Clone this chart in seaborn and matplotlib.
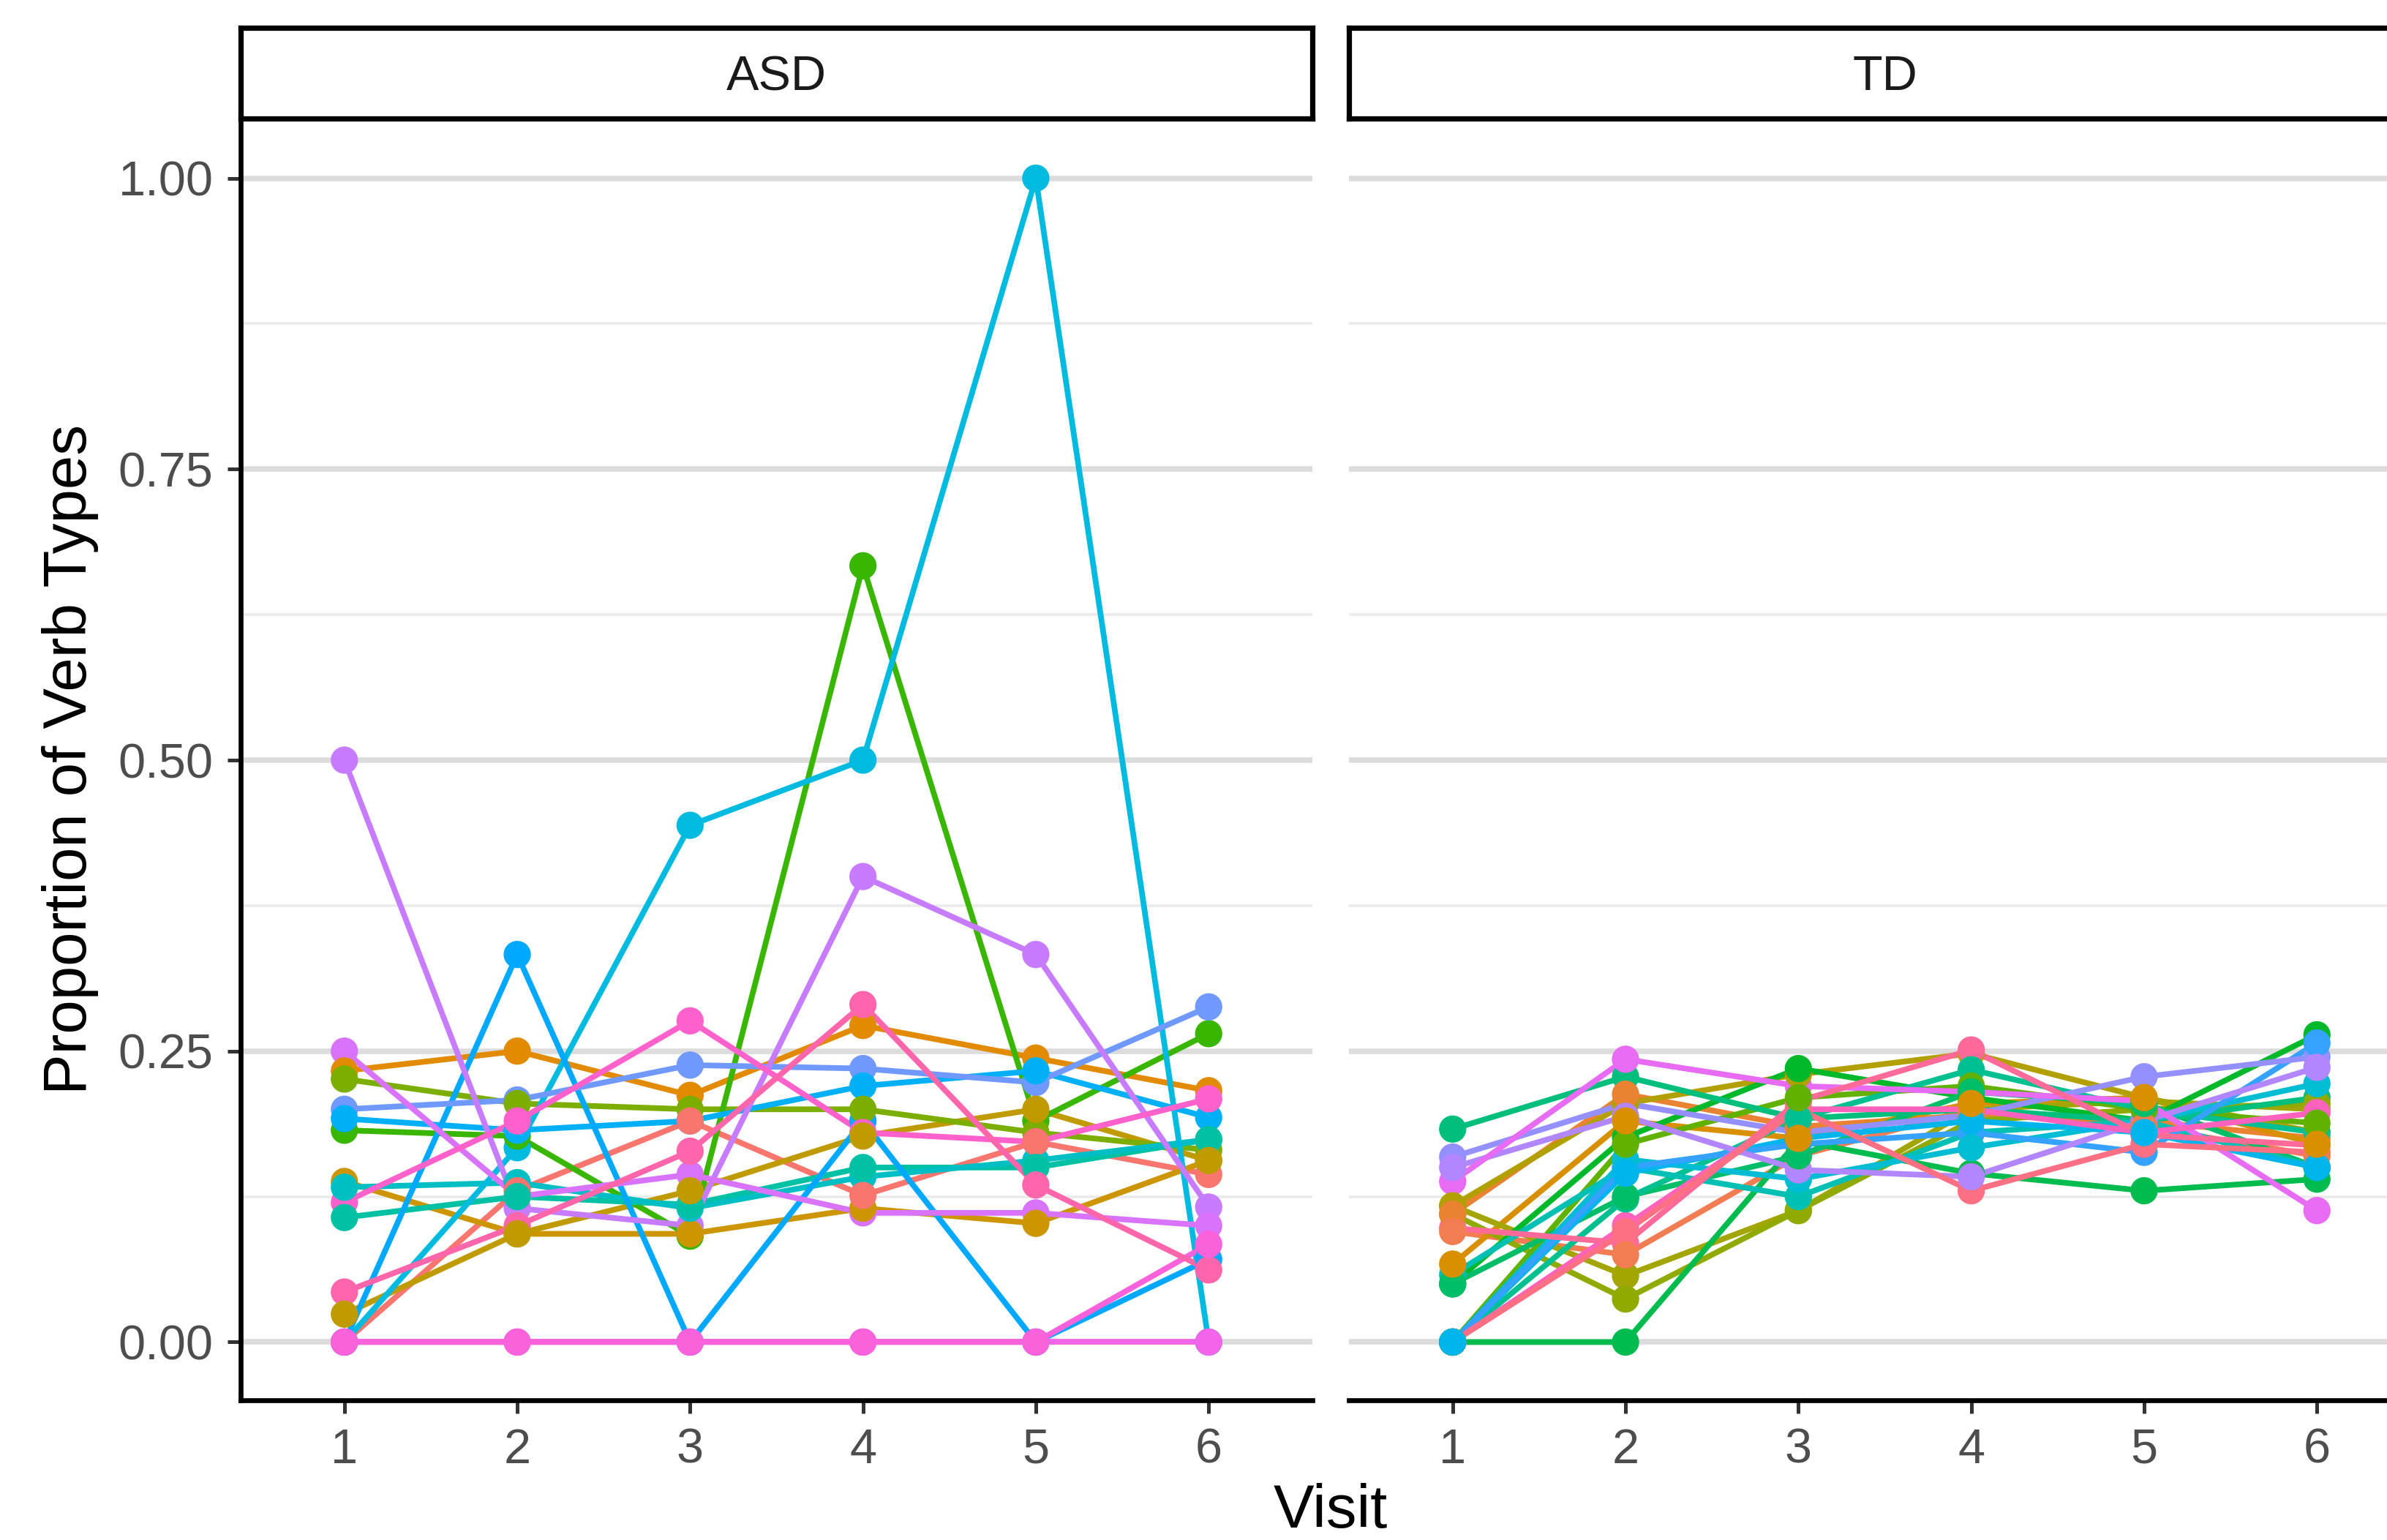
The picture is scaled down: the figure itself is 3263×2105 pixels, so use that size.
import numpy as np
import pandas as pd
import matplotlib
matplotlib.use("Agg")
import matplotlib.pyplot as plt
import seaborn as sns

# visits on the x axis
visits = [1, 2, 3, 4, 5, 6]
n_subjects = 40

# ASD children: subject number and proportion of verb types per visit
asd_ids = [22, 25, 12, 30, 31, 3, 27, 24, 10, 35, 5, 20, 0, 18, 37, 6, 33, 34]
asd_props = [
    [0.000, 0.167, 0.444, 0.500, 1.000, 0.000],
    [0.000, 0.333, 0.000, 0.190, 0.000, 0.071],
    [0.182, 0.177, 0.091, 0.667, 0.190, 0.265],
    [0.500, 0.115, 0.100, 0.400, 0.333, 0.116],
    [0.250, 0.125, 0.144, 0.111, 0.111, 0.100],
    [0.233, 0.250, 0.212, 0.272, 0.244, 0.216],
    [0.200, 0.208, 0.238, 0.235, 0.223, 0.288],
    [0.192, 0.182, 0.190, 0.220, 0.233, 0.193],
    [0.226, 0.205, 0.200, 0.200, 0.180, 0.165],
    [0.120, 0.190, 0.276, 0.180, 0.172, 0.209],
    [0.138, 0.093, 0.093, 0.115, 0.102, 0.156],
    [0.133, 0.137, 0.115, 0.142, 0.156, 0.174],
    [0.000, 0.130, 0.190, 0.126, 0.172, 0.144],
    [0.107, 0.125, 0.118, 0.150, 0.150, 0.174],
    [0.043, 0.100, 0.164, 0.290, 0.135, 0.062],
    [0.024, 0.093, 0.130, 0.177, 0.200, 0.156],
    [0.000, 0.000, 0.000, 0.000, 0.000, 0.000],
    [0.000, 0.000, 0.000, 0.000, 0.000, 0.084],
]

# TD children
td_ids = [16, 28, 32, 8, 7, 38, 9, 19, 13, 14, 26, 21, 36, 39, 2, 29, 17, 11, 1, 15, 23, 4]
td_props = [
    [0.183, 0.228, 0.192, 0.200, 0.190, 0.210],
    [0.159, 0.205, 0.180, 0.195, 0.228, 0.245],
    [0.138, 0.243, 0.220, 0.215, 0.207, 0.113],
    [0.117, 0.057, 0.113, 0.200, 0.207, 0.200],
    [0.117, 0.205, 0.230, 0.248, 0.210, 0.180],
    [0.098, 0.085, 0.207, 0.251, 0.178, 0.169],
    [0.110, 0.037, 0.113, 0.190, 0.200, 0.205],
    [0.058, 0.150, 0.125, 0.180, 0.190, 0.150],
    [0.050, 0.176, 0.235, 0.210, 0.190, 0.264],
    [0.000, 0.000, 0.173, 0.145, 0.130, 0.140],
    [0.000, 0.150, 0.170, 0.180, 0.163, 0.257],
    [0.000, 0.157, 0.140, 0.167, 0.190, 0.222],
    [0.000, 0.100, 0.200, 0.200, 0.180, 0.197],
    [0.000, 0.095, 0.200, 0.130, 0.170, 0.163],
    [0.110, 0.213, 0.185, 0.195, 0.190, 0.175],
    [0.150, 0.194, 0.148, 0.142, 0.190, 0.236],
    [0.000, 0.123, 0.192, 0.234, 0.200, 0.180],
    [0.000, 0.170, 0.210, 0.220, 0.200, 0.188],
    [0.095, 0.075, 0.160, 0.200, 0.185, 0.160],
    [0.050, 0.125, 0.160, 0.215, 0.205, 0.150],
    [0.000, 0.145, 0.175, 0.190, 0.180, 0.150],
    [0.067, 0.190, 0.175, 0.205, 0.210, 0.170],
]


def hcl_hex(h, c=100.0, l=65.0):
    """ggplot-style hcl colour (polar Luv) to hex"""
    wy, wu, wv = 100.0, 0.1978398, 0.4683363
    hr = np.deg2rad(h)
    u_, v_ = c * np.cos(hr), c * np.sin(hr)
    y = wy * ((l + 16) / 116) ** 3
    u = u_ / (13 * l) + wu
    v = v_ / (13 * l) + wv
    x = 9.0 * y * u / (4 * v)
    z = -x / 3 - 5 * y + 3 * y / v
    rgb = [(3.240479 * x - 1.537150 * y - 0.498535 * z) / wy,
           (-0.969256 * x + 1.875992 * y + 0.041556 * z) / wy,
           (0.055648 * x - 0.204043 * y + 1.057311 * z) / wy]
    out = []
    for t in rgb:
        t = 1.055 * t ** (1 / 2.4) - 0.055 if t > 0.00304 else 12.92 * t
        out.append(int(round(min(max(t, 0), 1) * 255)))
    return "#%02X%02X%02X" % tuple(out)


palette = {f"S{i:02d}": hcl_hex(15 + 360 * i / n_subjects) for i in range(n_subjects)}

rows = []
for group, ids, props in [("ASD", asd_ids, asd_props), ("TD", td_ids, td_props)]:
    for sid, vals in zip(ids, props):
        for v, p in zip(visits, vals):
            rows.append((group, f"S{sid:02d}", v, p))
df = pd.DataFrame(rows, columns=["group", "subject", "visit", "prop"])

sns.set_theme(style="white")
plt.rcParams["font.family"] = ["Liberation Sans", "DejaVu Sans"]

W, H = 3263, 2105
fig = plt.figure(figsize=(W / 100, H / 100), dpi=100)


def frac(x0, y0, x1, y1):
    return [x0 / W, 1 - y1 / H, (x1 - x0) / W, (y1 - y0) / H]


panels = {"ASD": (329, 1794), "TD": (1844, 3309)}
for group, (x0, x1) in panels.items():
    ax = fig.add_axes(frac(x0, 164, x1, 1914))
    sub = df[df.group == group]
    order = sorted(sub.subject.unique())
    sns.lineplot(data=sub, x="visit", y="prop", hue="subject", hue_order=order,
                 palette=palette, estimator=None, linewidth=5.6, legend=False, ax=ax)
    sns.scatterplot(data=sub, x="visit", y="prop", hue="subject", hue_order=order,
                    palette=palette, s=720, linewidth=0, legend=False, ax=ax, zorder=3)

    ax.set_xlim(0.4, 6.6)
    ax.set_ylim(-0.05, 1.05)
    ax.set_xticks(visits)
    ax.set_yticks([0, 0.25, 0.5, 0.75, 1.0])
    ax.set_yticklabels(["0.00", "0.25", "0.50", "0.75", "1.00"])
    ax.set_yticks([0.125, 0.375, 0.625, 0.875], minor=True)
    ax.set_axisbelow(True)
    ax.grid(axis="y", which="major", color="#DCDCDC", linewidth=5.5)
    ax.grid(axis="y", which="minor", color="#EBEBEB", linewidth=2.6)
    ax.grid(axis="x", visible=False)
    ax.tick_params(which="minor", length=0)
    ax.tick_params(axis="both", which="major", length=13, width=3.6, color="#333333",
                   labelsize=48, labelcolor="#4D4D4D", pad=14, bottom=True, left=True)
    ax.set_xlabel("")
    ax.set_ylabel("")
    for side in ["top", "right"]:
        ax.spines[side].set_visible(False)
    ax.spines["bottom"].set_linewidth(4.8)
    ax.spines["bottom"].set_color("black")
    ax.spines["left"].set_linewidth(4.8)
    ax.spines["left"].set_color("black")
    if group == "TD":
        ax.spines["left"].set_visible(False)
        ax.tick_params(axis="y", left=False, labelleft=False)

    # facet strip
    sax = fig.add_axes(frac(x0, 38, x1, 162))
    sax.set_xticks([])
    sax.set_yticks([])
    sax.set_facecolor("white")
    for sp in sax.spines.values():
        sp.set_linewidth(5.2)
        sp.set_color("black")
    fig.text((x0 + x1) / 2 / W, 1 - 123 / H, group, ha="center", va="baseline",
             size=48, color="#1A1A1A")

fig.text(1819 / W, 1 - 2088 / H, "Visit", ha="center", va="baseline", size=60, color="black")
fig.text(118 / W, 1 - 1038 / H, "Proportion of Verb Types", rotation=90,
         rotation_mode="anchor", ha="center", va="baseline", size=60, color="black")

fig.savefig("out.png", dpi=100)
